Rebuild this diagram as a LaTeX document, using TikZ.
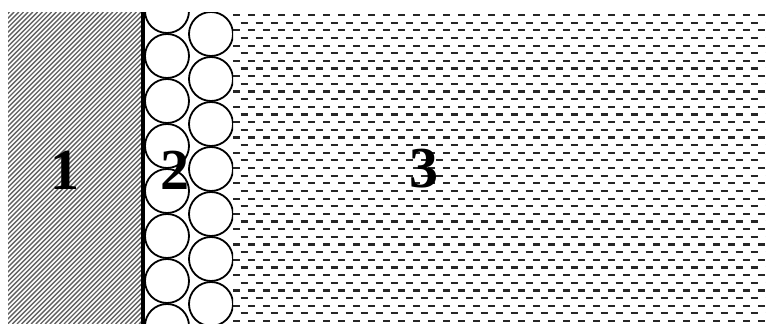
\documentclass[tikz,border=0pt]{standalone}
\usepackage{fontspec}
\setmainfont{Liberation Serif}[BoldFont={Liberation Serif Bold}]

\begin{document}
\begin{tikzpicture}[x=1pt, y=-1pt, line join=round,
  hatch/.style={black!62, line width=1.4pt},
  dashrow/.style={black!85, line width=2.2pt, dash pattern=on 7pt off 8pt},
  grain/.style={black, line width=1.8pt},
  wall/.style={black, line width=4pt},
  lbl/.style={font=\fontsize{58}{58}\selectfont\bfseries, inner sep=0pt}]
  % --- Khung ---
  \useasboundingbox (0,0) rectangle (766,324);
  \coordinate (A) at (8,12);
  \coordinate (B) at (141,324);
  \coordinate (C) at (233,12);
  \coordinate (D) at (766,324);

  % --- Vung 1: gach cheo ---
  \begin{scope}
    \clip (A) rectangle (B);
    \foreach \s in {-312,-307.3,...,146} \draw[hatch] (\s,324) -- ({\s+312},12);
  \end{scope}

  % --- Vung 3: net dut ---
  \begin{scope}
    \clip (C) rectangle (D);
    \foreach \k in {0,...,41} {
      \pgfmathsetmacro\yy{15+7.65*\k}
      \pgfmathsetmacro\ph{mod(\k,2)*7.5}
      \draw[dashrow, dash phase=\ph pt] (233,\yy) -- (766,\yy);
    }
  \end{scope}

  % --- Vung 2: hat tron ---
  \begin{scope}
    \clip (141,12) rectangle (233,324);
    \foreach \k in {0,...,7} \draw[grain] (167,{11+45*\k}) circle (22);
    \foreach \k in {0,...,6} \draw[grain] (211,{34+45*\k}) circle (22);
  \end{scope}

  % --- Vach ---
  \draw[wall] (143,12) -- (143,324);

  % --- Nhan ---
  \node[lbl] (n1) at (65,170) {1};
  \node[lbl] (n2) at (175,170) {2};
  \node[lbl] (n3) at (424,169) {3};
\end{tikzpicture}
\end{document}
